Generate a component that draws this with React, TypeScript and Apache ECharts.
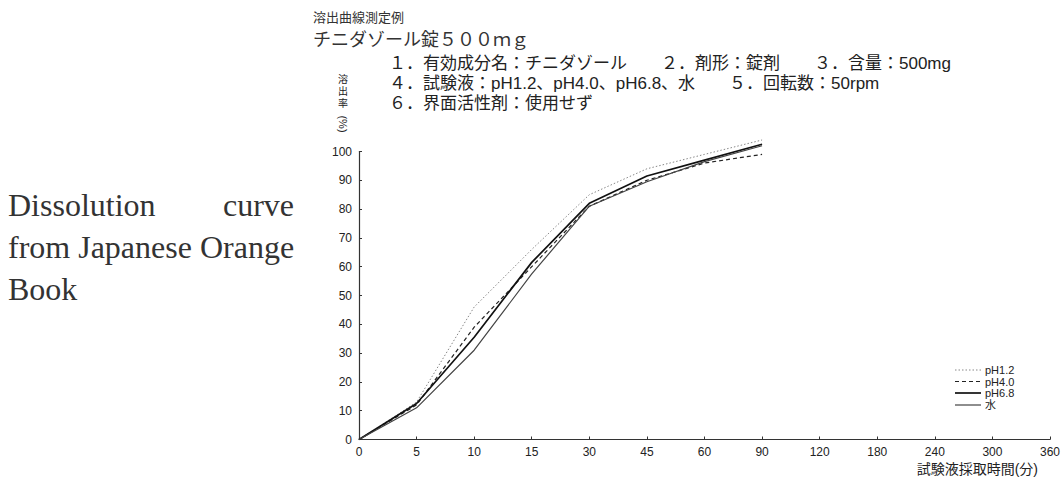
import React, { useEffect, useRef } from "react";
import * as echarts from "echarts";

const timeLabels = ["0", "5", "10", "15", "30", "45", "60", "90", "120", "180", "240", "300", "360"];
const seriesNames = ["pH1.2", "pH4.0", "pH6.8", "水"];
const ph12 = [0, 13, 46, 66, 85, 94, 99, 104];
const ph40 = [0, 12, 39, 60, 81, 90, 96, 99];
const ph68 = [0, 12.5, 35.5, 61.5, 82, 91.5, 97, 102.5];
const water = [0, 11, 31, 57.5, 81, 89.5, 96.5, 102];

const titleLines = ["溶出曲線測定例", "チニダゾール錠５００ｍｇ"];
const infoLines = [
  "１．有効成分名：チニダゾール　　２．剤形：錠剤　　３．含量：500mg",
  "４．試験液：pH1.2、pH4.0、pH6.8、水　　５．回転数：50rpm",
  "６．界面活性剤：使用せず",
];
const yAxisTitleChars = ["溶", "出", "率"];
const yAxisTitleUnit = "(%)";
const xAxisTitle = "試験液採取時間(分)";
const sideText = ["Dissolution", "curve", "from Japanese Orange", "Book"];

const MIX = '"Liberation Sans", "Noto Sans CJK JP", sans-serif';
const SERIF = '"Liberation Serif", "Times New Roman", serif';
const SANS = '"Liberation Sans", Arial, sans-serif';

export default function App() {
  const ref = useRef<HTMLDivElement>(null);
  useEffect(() => {
    if (!ref.current) return;
    const chart = echarts.init(ref.current, null, { renderer: "svg" });
    const styles: any[] = [
      { color: "#888", width: 1, type: [1.5, 2] },
      { color: "#222", width: 1.2, type: [4, 3] },
      { color: "#111", width: 1.7, type: "solid" },
      { color: "#444", width: 1.2, type: "solid" },
    ];
    const datas = [ph12, ph40, ph68, water];
    const legendRowsY = [370, 381.5, 393, 405];
    const legendGraphics: any[] = [];
    seriesNames.forEach((n, i) => {
      const st = styles[i];
      legendGraphics.push({
        type: "line",
        shape: { x1: 955, y1: legendRowsY[i], x2: 981, y2: legendRowsY[i] },
        style: {
          stroke: st.color,
          lineWidth: st.width,
          lineDash: Array.isArray(st.type) ? st.type : null,
        },
      });
      legendGraphics.push({
        type: "text",
        x: 985,
        y: legendRowsY[i],
        style: {
          text: n,
          fontSize: 11,
          fontFamily: MIX,
          lineHeight: 11,
          fill: "#222",
          verticalAlign: "middle",
        },
      });
    });
    const yTitleGraphics: any[] = yAxisTitleChars.map((c, i) => ({
      type: "text",
      x: 343,
      y: 79 + i * 12,
      style: { text: c, fontSize: 10, lineHeight: 11, fontFamily: MIX, fill: "#222", align: "center", verticalAlign: "middle" },
    }));
    yTitleGraphics.push({
      type: "text",
      x: 343,
      y: 124,
      rotation: -Math.PI / 2,
      style: { text: yAxisTitleUnit, fontSize: 11, lineHeight: 11, fontFamily: SANS, fill: "#222", align: "center", verticalAlign: "middle" },
    });
    chart.setOption({
      animation: false,
      backgroundColor: "#fff",
      grid: { left: 359, right: 13, top: 151.5, bottom: 39.5, containLabel: false },
      xAxis: {
        type: "category",
        data: timeLabels,
        boundaryGap: false,
        axisLine: { lineStyle: { color: "#333", width: 1.2 } },
        axisTick: { show: true, inside: true, length: 3, alignWithLabel: true, lineStyle: { color: "#333" } },
        axisLabel: { fontSize: 12, color: "#222", fontFamily: SANS, margin: 6 },
        splitLine: { show: false },
      },
      yAxis: {
        type: "value",
        min: 0,
        max: 100,
        interval: 10,
        axisLine: { show: true, lineStyle: { color: "#333", width: 1.2 } },
        axisTick: { show: true, inside: true, length: 3, lineStyle: { color: "#333" } },
        axisLabel: { fontSize: 12, color: "#222", fontFamily: SANS, margin: 7 },
        splitLine: { show: false },
      },
      series: seriesNames.map((n, i) => ({
        name: n,
        type: "line",
        data: datas[i],
        symbol: "none",
        clip: false,
        lineStyle: styles[i],
        itemStyle: { color: styles[i].color },
      })),
      graphic: [
        { type: "text", x: 313, y: 17, style: { text: titleLines[0], fontSize: 13, fontFamily: MIX, fill: "#333", verticalAlign: "middle" } },
        { type: "text", x: 313, y: 40, style: { text: titleLines[1], fontSize: 18, fontFamily: MIX, fill: "#333", verticalAlign: "middle" } },
        { type: "text", x: 389, y: 63, style: { text: infoLines[0], fontSize: 17, fontFamily: MIX, fill: "#222", verticalAlign: "middle" } },
        { type: "text", x: 389, y: 83, style: { text: infoLines[1], fontSize: 17, fontFamily: MIX, fill: "#222", verticalAlign: "middle" } },
        { type: "text", x: 389, y: 103, style: { text: infoLines[2], fontSize: 17, fontFamily: MIX, fill: "#222", verticalAlign: "middle" } },
        ...yTitleGraphics,
        { type: "text", x: 1038, y: 469, style: { text: xAxisTitle, fontSize: 14, fontFamily: MIX, fill: "#222", align: "right", verticalAlign: "middle" } },
        { type: "text", x: 8, y: 205, style: { text: sideText[0], fontSize: 32, fontFamily: SERIF, fill: "#333", verticalAlign: "middle" } },
        { type: "text", x: 294, y: 205, style: { text: sideText[1], fontSize: 32, fontFamily: SERIF, fill: "#333", align: "right", verticalAlign: "middle" } },
        { type: "text", x: 8, y: 247, style: { text: sideText[2], fontSize: 32, fontFamily: SERIF, fill: "#333", verticalAlign: "middle" } },
        { type: "text", x: 8, y: 289, style: { text: sideText[3], fontSize: 32, fontFamily: SERIF, fill: "#333", verticalAlign: "middle" } },
        ...legendGraphics,
      ],
    });
    return () => chart.dispose();
  }, []);
  return (
    <div
      ref={ref}
      style={{ position: "fixed", left: 0, top: 0, width: 1063, height: 479, background: "#fff" }}
    />
  );
}
